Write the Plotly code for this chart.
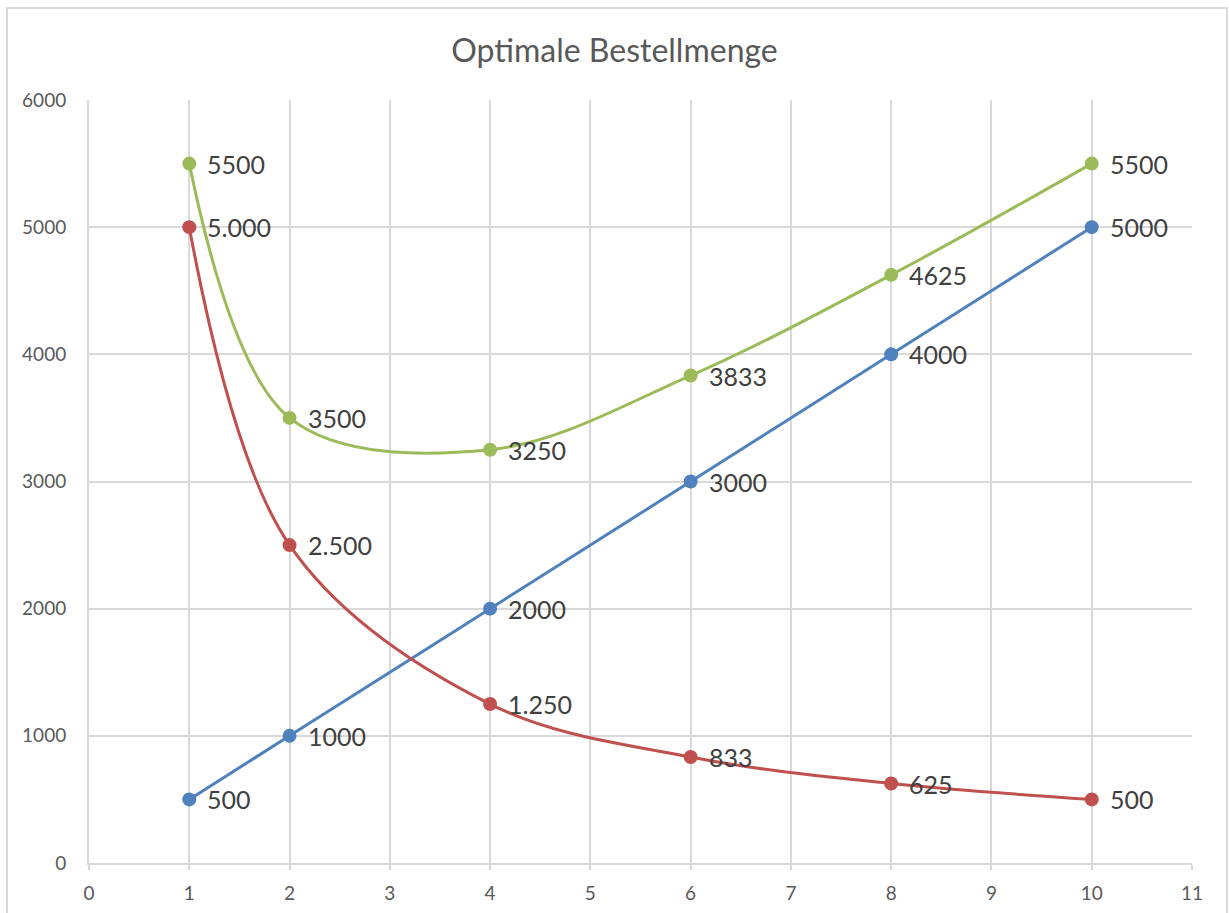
import plotly.graph_objects as go

# Bestellmenge (x) und Kostenreihen
x_vals = [1, 2, 4, 6, 8, 10]
lagerkosten = [500, 1000, 2000, 3000, 4000, 5000]
bestellkosten = [5000, 2500, 1250, 833, 625, 500]
gesamtkosten = [5500, 3500, 3250, 3833, 4625, 5500]

x_ticks = list(range(0, 12))
y_ticks = list(range(0, 7000, 1000))

BLUE = "#4F81BD"
RED = "#C0504D"
GREEN = "#9BBB59"
GRID = "#D9D9D9"
FONT = "Lato, Carlito, Calibri, sans-serif"


def plain(v):
    return f"{v}"


def german(v):
    return f"{v:,}".replace(",", ".")


fig = go.Figure()

series = [
    (lagerkosten, BLUE, plain),
    (bestellkosten, RED, german),
    (gesamtkosten, GREEN, plain),
]

for ys, color, fmt in series:
    fig.add_trace(
        go.Scatter(
            x=x_vals,
            y=ys,
            mode="lines+markers",
            line=dict(color=color, width=3, shape="spline", smoothing=1),
            marker=dict(color=color, size=14),
            cliponaxis=False,
            showlegend=False,
            hoverinfo="x+y",
        )
    )
    # data labels to the right of each point
    for xv, yv in zip(x_vals, ys):
        fig.add_annotation(
            x=xv,
            y=yv,
            text=fmt(yv),
            showarrow=False,
            xanchor="left",
            yanchor="middle",
            xshift=16,
            font=dict(family=FONT, size=25, color="#404040"),
        )

# outer chart frame
L, R, T, B = 89, 1192, 100, 863
W, H = R - L, B - T
fig.add_shape(
    type="rect",
    xref="paper",
    yref="paper",
    x0=(7 - L) / W,
    x1=(1227 - L) / W,
    y0=(B - 930) / H,
    y1=(B - 8) / H,
    line=dict(color=GRID, width=2),
    fillcolor="rgba(0,0,0,0)",
    layer="below",
)

fig.update_layout(
    width=1229,
    height=913,
    margin=dict(l=L, r=1229 - R, t=T, b=913 - B, autoexpand=False),
    paper_bgcolor="white",
    plot_bgcolor="white",
    title=dict(
        text="Optimale Bestellmenge",
        x=0.5,
        xref="container",
        xanchor="center",
        y=1 - 51 / 913,
        yanchor="middle",
        font=dict(family=FONT, size=32, color="#595959"),
    ),
    xaxis=dict(
        range=[0, 11],
        tickvals=x_ticks,
        showgrid=True,
        gridcolor=GRID,
        gridwidth=2,
        showline=True,
        linecolor=GRID,
        linewidth=2,
        ticks="outside",
        ticklen=5,
        tickcolor=GRID,
        tickwidth=2,
        ticklabelstandoff=7,
        zeroline=False,
        automargin=False,
        tickfont=dict(family=FONT, size=19, color="#595959"),
    ),
    yaxis=dict(
        range=[0, 6000],
        tickvals=y_ticks,
        showgrid=True,
        gridcolor=GRID,
        gridwidth=2,
        showline=True,
        linecolor=GRID,
        linewidth=2,
        ticks="",
        ticklabelstandoff=17,
        zeroline=False,
        automargin=False,
        tickfont=dict(family=FONT, size=19, color="#595959"),
    ),
)

fig.write_html("out.html")
